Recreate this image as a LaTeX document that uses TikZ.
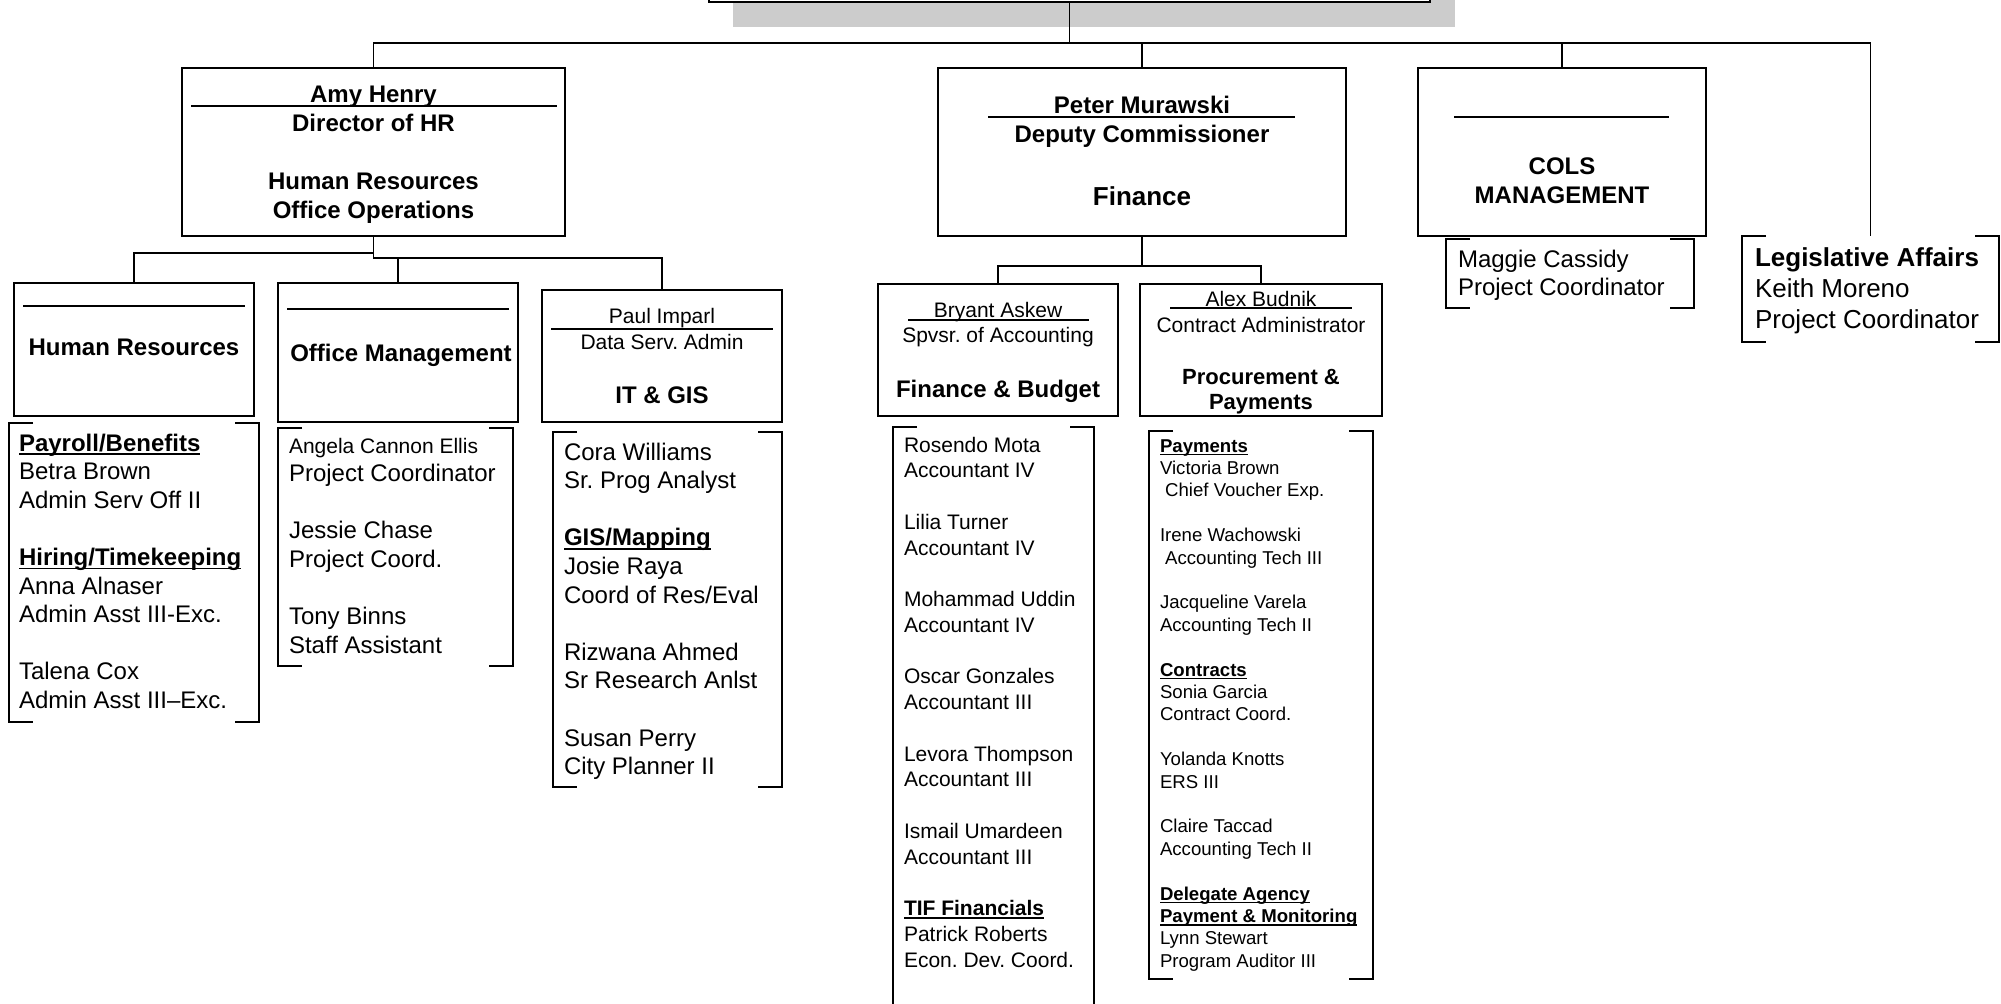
\documentclass[tikz,border=0pt]{standalone}
\usepackage{fontspec}
\setmainfont{Liberation Sans}
\usetikzlibrary{fit}
\definecolor{shadowgray}{HTML}{CCCCCC}
\newcommand{\fsz}[2]{\fontsize{#1}{#2}\selectfont}
\newcommand{\uln}[1]{\setbox0=\hbox{#1}\rlap{\vrule height -0.09em depth 0.17em width \wd0}\box0}
\newcommand{\vstack}[1]{\lineskiplimit=-\maxdimen\lineskip=0pt\vtop{#1}}
\newcommand{\rowl}[1]{\hbox{#1}}
\newcommand{\drawbracket}[1]{%
  \draw[brk] ([xshift=12pt]#1.north west) -- (#1.north west) -- (#1.south west) -- ([xshift=12pt]#1.south west);
  \draw[brk] ([xshift=-12pt]#1.north east) -- (#1.north east) -- (#1.south east) -- ([xshift=-12pt]#1.south east);}
\frenchspacing
\begin{document}
\begin{tikzpicture}[x=0.5pt,y=-0.5pt,
  box/.style={draw, line width=1.1pt, fill=white, inner sep=0pt, outer sep=0pt},
  zone/.style={inner sep=0pt, outer sep=0pt},
  conn/.style={line width=0.9pt},
  brk/.style={line width=1.1pt},
  rule/.style={line width=0.9pt},
  ctext/.style={inner sep=0pt, outer sep=0pt, anchor=base},
  ltext/.style={inner sep=0pt, outer sep=0pt, anchor=base west}]
\useasboundingbox (0,0) rectangle (2001,1003);

% top box with shadow
\fill[shadowgray] (733,-40) rectangle (1455,27);
\node[box, fit={(709,-60) (1430,2)}] (top) {};

% main boxes
\node[box, fit={(182,68) (565,236)}] (amy) {};
\node[box, fit={(938,68) (1346,236)}] (peter) {};
\node[box, fit={(1418,68) (1706,236)}] (cols) {};
% sub boxes
\node[box, fit={(14,283) (254,416)}] (hr) {};
\node[box, fit={(278,283) (518,422)}] (office) {};
\node[box, fit={(542,290) (782,422)}] (itgis) {};
\node[box, fit={(878,284) (1118,416)}] (finb) {};
\node[box, fit={(1140,284) (1382,416)}] (proc) {};

% bracket zones
\node[zone, fit={(9,423) (259,722)}] (hrb) {};
\node[zone, fit={(278,428) (513,666)}] (offb) {};
\node[zone, fit={(553,432) (782,787)}] (itb) {};
\node[zone, fit={(893,427) (1094,1015)}] (finbb) {};
\node[zone, fit={(1149,431) (1373,979)}] (procb) {};
\node[zone, fit={(1446,239) (1694,308)}] (colsb) {};
\node[zone, fit={(1742,236) (1999,342)}] (legb) {};
\drawbracket{hrb}
\drawbracket{offb}
\drawbracket{itb}
\drawbracket{finbb}
\drawbracket{procb}
\drawbracket{colsb}
\drawbracket{legb}

% connectors
\coordinate (hub) at (top.south |- 0,43);
\draw[conn] (top.south) -- (hub);
\draw[conn] (hub) -| (amy.north);
\draw[conn] (hub) -| (peter.north);
\draw[conn] (hub) -| (cols.north);
\draw[conn] (hub) -| (legb.north);
\draw[conn] (amy.south) -- ++(0,17) -| (hr.north);
\draw[conn] (amy.south) -- ++(0,22) -| (itgis.north);
\draw[conn] (office.north) -- ++(0,-25);
\draw[conn] (peter.south) -- ++(0,30) -| (finb.north);
\draw[conn] (peter.south) -- ++(0,30) -| (proc.north);

% Amy box text
\node[ctext, font={\fsz{12}{14}\bfseries}] (amyname) at (373.5,102) {Amy Henry};
\draw[rule] (191,106) -- (557,106);
\node[ctext, font={\fsz{12}{14}\bfseries}] (amytitle) at (373.5,131) {Director of HR};
\node[ctext, font={\fsz{12}{14}\bfseries}] (amyd1) at (373.5,189) {Human Resources};
\node[ctext, font={\fsz{12}{14}\bfseries}] (amyd2) at (373.5,218) {Office Operations};

% Peter box text
\node[ctext, font={\fsz{12}{14}\bfseries}] (petername) at (1142,113) {Peter Murawski};
\draw[rule] (988,117) -- (1295,117);
\node[ctext, font={\fsz{12}{14}\bfseries}] (petertitle) at (1142,142) {Deputy Commissioner};
\node[ctext, font={\fsz{13}{15}\bfseries}] (peterdept) at (1142,205) {Finance};

% COLS box text
\draw[rule] (1454,117) -- (1669,117);
\node[ctext, font={\fsz{12}{14}\bfseries}] (cols1) at (1562,174) {COLS};
\node[ctext, font={\fsz{12}{14}\bfseries}] (cols2) at (1562,203) {MANAGEMENT};

% HR sub box
\draw[rule] (23,306) -- (245,306);
\node[ctext, font={\fsz{12}{14}\bfseries}] (hrname) at (134,355) {Human Resources};
% Office sub box
\draw[rule] (287,309) -- (509,309);
\node[ctext, font={\fsz{12}{14}\bfseries}] (offname) at (401,361) {Office Management};
% IT sub box
\node[ctext, font={\fsz{10.5}{12}}] (itname) at (662,323) {Paul Imparl};
\draw[rule] (551,329) -- (773,329);
\node[ctext, font={\fsz{10.5}{12}}] (ittitle) at (662,349) {Data Serv. Admin};
\node[ctext, font={\fsz{12}{14}\bfseries}] (itdept) at (662,403) {IT \& GIS};
% Finance & Budget sub box
\node[ctext, font={\fsz{10.5}{12}}] (fbname) at (998,317) {Bryant Askew};
\draw[rule] (908,320) -- (1089,320);
\node[ctext, font={\fsz{10.5}{12}}] (fbtitle) at (998,342) {Spvsr. of Accounting};
\node[ctext, font={\fsz{12}{14}\bfseries}] (fbdept) at (998,397) {Finance \& Budget};
% Procurement sub box
\node[ctext, font={\fsz{10.5}{12}}] (prname) at (1261,306) {Alex Budnik};
\draw[rule] (1170,308) -- (1352,308);
\node[ctext, font={\fsz{10.5}{12}}] (prtitle) at (1261,332) {Contract Administrator};
\node[ctext, font={\fsz{11}{13}\bfseries}] (prdept1) at (1261,384) {Procurement \&};
\node[ctext, font={\fsz{11}{13}\bfseries}] (prdept2) at (1261,409) {Payments};

% bracket contents
\node[ltext, font={\fsz{12}{14.3}}] (hrtxt) at (19,451) {\vstack{%
  \rowl{\uln{\bfseries Payroll/Benefits}}
  \rowl{Betra Brown}
  \rowl{Admin Serv Off II}
  \rowl{}
  \rowl{\uln{\bfseries Hiring/Timekeeping}}
  \rowl{Anna Alnaser}
  \rowl{Admin Asst III-Exc.}
  \rowl{}
  \rowl{Talena Cox}
  \rowl{Admin Asst III–Exc.}}};

\node[ltext, font={\fsz{12}{14.3}}] (offtxt) at (289,453) {\vstack{%
  \rowl{\fsz{10.5}{14.3}Angela Cannon Ellis}
  \rowl{Project Coordinator}
  \rowl{}
  \rowl{Jessie Chase}
  \rowl{Project Coord.}
  \rowl{}
  \rowl{Tony Binns}
  \rowl{Staff Assistant}}};

\node[ltext, font={\fsz{12}{14.3}}] (ittxt) at (564,460) {\vstack{%
  \rowl{Cora Williams}
  \rowl{Sr. Prog Analyst}
  \rowl{}
  \rowl{\uln{\bfseries GIS/Mapping}}
  \rowl{Josie Raya}
  \rowl{Coord of Res/Eval}
  \rowl{}
  \rowl{Rizwana Ahmed}
  \rowl{Sr Research Anlst}
  \rowl{}
  \rowl{Susan Perry}
  \rowl{City Planner II}}};

\node[ltext, font={\fsz{10.5}{12.875}}] (fbtxt) at (904,452) {\vstack{%
  \rowl{Rosendo Mota}
  \rowl{Accountant IV}
  \rowl{}
  \rowl{Lilia Turner}
  \rowl{Accountant IV}
  \rowl{}
  \rowl{Mohammad Uddin}
  \rowl{Accountant IV}
  \rowl{}
  \rowl{Oscar Gonzales}
  \rowl{Accountant III}
  \rowl{}
  \rowl{Levora Thompson}
  \rowl{Accountant III}
  \rowl{}
  \rowl{Ismail Umardeen}
  \rowl{Accountant III}
  \rowl{}
  \rowl{\uln{\bfseries TIF Financials}}
  \rowl{Patrick Roberts}
  \rowl{Econ. Dev. Coord.}}};

\node[ltext, font={\fsz{9.3}{11.2}}] (prtxt) at (1160,452) {\vstack{%
  \rowl{\uln{\bfseries Payments}}
  \rowl{Victoria Brown}
  \rowl{\ Chief Voucher Exp.}
  \rowl{}
  \rowl{Irene Wachowski}
  \rowl{\ Accounting Tech III}
  \rowl{}
  \rowl{Jacqueline Varela}
  \rowl{Accounting Tech II}
  \rowl{}
  \rowl{\uln{\bfseries Contracts}}
  \rowl{Sonia Garcia}
  \rowl{Contract Coord.}
  \rowl{}
  \rowl{Yolanda Knotts}
  \rowl{ERS III}
  \rowl{}
  \rowl{Claire Taccad}
  \rowl{Accounting Tech II}
  \rowl{}
  \rowl{\uln{\bfseries Delegate Agency}}
  \rowl{\uln{\bfseries Payment \& Monitoring}}
  \rowl{Lynn Stewart}
  \rowl{Program Auditor III}}};

\node[ltext, font={\fsz{12}{14}}] (colstxt) at (1458,267) {\vstack{%
  \rowl{Maggie Cassidy}
  \rowl{Project Coordinator}}};

\node[ltext, font={\fsz{13}{15.5}}] (legtxt) at (1755,266) {\vstack{%
  \rowl{\bfseries Legislative Affairs}
  \rowl{Keith Moreno}
  \rowl{Project Coordinator}}};
\end{tikzpicture}
\end{document}
